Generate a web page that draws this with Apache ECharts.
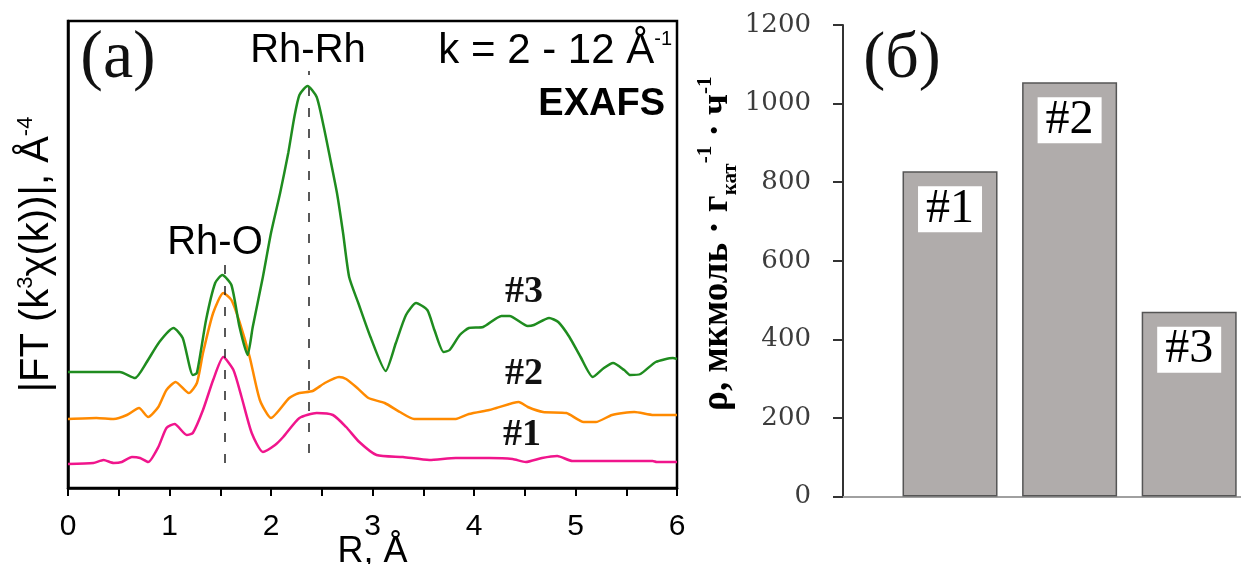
<!DOCTYPE html>
<html><head><meta charset="utf-8">
<script src="https://cdn.jsdelivr.net/npm/echarts@6/dist/echarts.min.js"></script>
<style>html,body{margin:0;padding:0;background:#fff}#c{width:1241px;height:564px}</style>
</head><body><div id="c"></div>
<script>
// ---- Panel (a): EXAFS Fourier transforms (arbitrary units) ----
const r1 = [0,0.25,0.35,0.45,0.53,0.63,0.71,0.79,0.89,0.97,1.05,1.17,1.23,1.33,1.43,1.53,1.63,1.71,1.81,1.92,2.04,2.12,2.28,2.45,2.61,2.74,2.87,3.04,3.30,3.56,3.82,4.15,4.38,4.51,4.67,4.82,4.97,5.76,5.80,6.0];
const y1 = [2.4,2.5,2.8,2.5,2.6,3.1,3.0,2.6,4.1,6.0,6.4,5.3,5.5,7.8,10.8,13.1,11.8,9.1,5.5,3.6,4.3,5.1,7.0,7.5,7.3,6.1,4.6,3.3,3.1,2.8,3.0,3.0,2.9,2.6,3.0,3.2,2.7,2.7,2.6,2.6];
const r2 = [0,0.28,0.45,0.58,0.70,0.79,0.89,0.97,1.06,1.19,1.27,1.33,1.43,1.53,1.61,1.69,1.79,1.89,2.0,2.18,2.28,2.41,2.53,2.67,2.74,2.85,2.96,3.12,3.27,3.41,3.82,3.95,4.15,4.22,4.44,4.53,4.68,4.91,5.08,5.20,5.36,5.58,5.77,6.0];
const y2 = [6.9,7.0,6.9,7.3,8.0,7.1,8.1,9.8,10.6,9.5,10.5,13.5,17.5,19.5,18.8,16.6,13.1,8.8,7.0,9.0,9.5,9.7,10.5,11.1,10.9,10.0,9.0,8.5,7.6,6.9,6.9,7.4,7.8,8.0,8.6,8.1,7.6,7.5,6.6,6.6,7.3,7.6,7.3,7.3];
const r3 = [0,0.51,0.66,0.77,0.90,1.04,1.13,1.23,1.27,1.36,1.45,1.52,1.61,1.69,1.77,1.82,1.92,2.00,2.09,2.17,2.23,2.28,2.36,2.45,2.52,2.58,2.65,2.71,2.77,2.86,2.98,3.13,3.23,3.33,3.43,3.54,3.61,3.70,3.76,3.86,3.95,4.09,4.27,4.35,4.53,4.59,4.74,4.83,4.94,5.05,5.17,5.28,5.37,5.48,5.54,5.64,5.79,5.96,6.0];
const y3 = [11.6,11.6,11.0,12.5,14.6,16.0,15.0,11.3,11.5,16.8,20.5,21.3,20.3,16.1,13.3,16.1,21.1,25.5,29.5,33.5,37.1,39.3,40.2,39.1,36.1,33.1,29.5,25.5,21.1,18.5,15.1,11.7,14.5,17.3,18.5,17.8,15.8,13.6,13.8,15.3,16.0,16.1,17.2,17.2,16.2,16.3,17.0,16.6,15.1,13.1,11.1,12.0,12.5,11.8,11.3,11.4,12.6,13.0,12.9];
const seriesNames = ['#1','#2','#3'];
const peakNames = ['Rh-O','Rh-Rh'];
const peakR = [1.54, 2.37];
const peakLow = [2.5, 3.5];
const peakHigh = [23.0, 41.7];
const xTickLabels = ['0','1','2','3','4','5','6'];

// ---- Panel (б): activity ----
const barCats = ['#1','#2','#3'];
const barVals = [828, 1054, 470];
const barTickLabels = ['0','200','400','600','800','1000','1200'];

const colors = ['#f0158c','#ff8a00','#1f8c1f'];
const rs = [r1, r2, r3], ys = [y1, y2, y3];

const chart = echarts.init(document.getElementById('c'), null, {renderer:'canvas'});
const sans = 'Liberation Sans, Arial, sans-serif';
const serif = 'Liberation Serif, Times New Roman, serif';

const lineSeries = rs.map((r, k) => ({
  type: 'line', name: seriesNames[k], xAxisIndex: 0, yAxisIndex: 0,
  data: r.map((v, i) => [v, ys[k][i]]),
  showSymbol: false, smooth: 0.2,
  lineStyle: {color: colors[k], width: 2.5}, itemStyle: {color: colors[k]}, z: 3 + k
}));

const option = {
  animation: false,
  backgroundColor: '#fff',
  grid: [
    {left: 68, top: 21, width: 609, height: 467, show: true, borderColor: '#000', borderWidth: 2.5, backgroundColor: 'transparent', containLabel: false, outerBoundsMode: 'none'},
    {left: 843, top: 25, width: 400, height: 471.5, containLabel: false, outerBoundsMode: 'none'}
  ],
  xAxis: [
    {type: 'value', gridIndex: 0, min: 0, max: 6, interval: 1,
     axisLine: {show: true, lineStyle: {color: '#000', width: 2.5}},
     axisTick: {show: true, length: 8, lineStyle: {color: '#000', width: 2}},
     minorTick: {show: true, splitNumber: 2, length: 8, lineStyle: {color: '#000', width: 2}},
     splitLine: {show: false}, minorSplitLine: {show: false},
     axisLabel: {fontSize: 30, fontFamily: sans, color: '#000', margin: 24,
       formatter: v => xTickLabels[Math.round(v)]},
     name: 'R, Å', nameLocation: 'middle', nameGap: 46, nameMoveOverlap: false,
     nameTextStyle: {fontSize: 36, fontFamily: sans, color: '#000'}},
    {type: 'value', gridIndex: 1, min: 0.105, max: 3.45,
     axisLine: {show: true, lineStyle: {color: '#a0a0a0', width: 2}},
     axisTick: {show: false}, axisLabel: {show: false}, splitLine: {show: false}}
  ],
  yAxis: [
    {type: 'value', gridIndex: 0, min: 0, max: 46.7,
     axisLine: {show: true, lineStyle: {color: '#000', width: 2.5}},
     axisTick: {show: false}, axisLabel: {show: false}, splitLine: {show: false},
     name: '{a||FT (k}{s|3}{a|χ(k))|, Å}{s|-4}', nameLocation: 'middle', nameRotate: 90, nameGap: 9,
     nameTextStyle: {fontSize: 40, fontFamily: sans, color: '#000',
       rich: {a: {fontSize: 40, fontFamily: sans, color: '#000', lineHeight: 44},
              s: {fontSize: 22, fontFamily: sans, color: '#000', lineHeight: 22, verticalAlign: 'top'}}}},
    {type: 'value', gridIndex: 1, min: 0, max: 1200, interval: 200,
     axisLine: {show: true, lineStyle: {color: '#333', width: 2}},
     axisTick: {show: true, length: 10, lineStyle: {color: '#333', width: 2}},
     axisLabel: {fontSize: 26, fontFamily: 'DejaVu Serif, serif', color: '#3c3c3c', margin: 32,
       formatter: v => barTickLabels[Math.round(v / 200)]},
     splitLine: {show: false},
     name: '{b|ρ, мкмоль · г}{sub|кат}{sup|-1}{b| · ч}{sup|-1}', nameLocation: 'middle', nameRotate: 90, nameGap: 100,
     nameTextStyle: {fontSize: 37, fontFamily: serif, fontWeight: 'bold', color: '#000', padding: [0, 0, 0, 34],
       rich: {b: {fontSize: 37, fontFamily: serif, fontWeight: 'bold', color: '#000', lineHeight: 46},
              sub: {fontSize: 21, fontFamily: serif, fontWeight: 'bold', color: '#000', lineHeight: 21, verticalAlign: 'bottom'},
              sup: {fontSize: 21, fontFamily: serif, fontWeight: 'bold', color: '#000', lineHeight: 21, verticalAlign: 'top'}}}}
  ],
  series: [
    ...lineSeries,
    {type: 'line', xAxisIndex: 0, yAxisIndex: 0, data: [], silent: true,
     markLine: {silent: true, symbol: ['none', 'none'], label: {show: false},
       lineStyle: {color: '#222', width: 1.5, type: [9, 12]},
       data: peakR.map((r, i) => [{coord: [r, peakLow[i]]}, {coord: [r, peakHigh[i]]}])}},
    {type: 'bar', xAxisIndex: 1, yAxisIndex: 1, barWidth: 95,
     data: barVals.map((v, i) => [i + 1, v]),
     itemStyle: {color: '#b0acab', borderColor: '#555', borderWidth: 1.5},
     label: {show: true, position: 'insideTop', distance: 15,
       formatter: p => barCats[p.dataIndex],
       fontFamily: serif, fontSize: 48, color: '#000', backgroundColor: '#fff', padding: [0, 8], lineHeight: 46}}
  ],
  graphic: [
    {type: 'text', x: 118, y: 59, style: {text: '(a)', fontFamily: serif, fontSize: 68, fill: '#111', align: 'center', verticalAlign: 'middle'}},
    {type: 'text', x: 902, y: 60, style: {text: '(б)', fontFamily: serif, fontSize: 66, fill: '#111', align: 'center', verticalAlign: 'middle'}},
    {type: 'text', x: 308, y: 51, style: {text: peakNames[1], fontFamily: sans, fontSize: 40, fill: '#000', align: 'center', verticalAlign: 'middle'}},
    {type: 'text', x: 215, y: 243, style: {text: peakNames[0], fontFamily: sans, fontSize: 40, fill: '#000', align: 'center', verticalAlign: 'middle'}},
    {type: 'text', x: 672, y: 51, style: {text: '{a|k = 2 - 12 Å}{s|-1}', align: 'right', verticalAlign: 'middle',
       rich: {a: {fontFamily: sans, fontSize: 42, fill: '#000', lineHeight: 44}, s: {fontFamily: sans, fontSize: 20, fill: '#000', lineHeight: 20, verticalAlign: 'top'}}}},
    {type: 'text', x: 665, y: 105, style: {text: 'EXAFS', fontFamily: sans, fontWeight: 'bold', fontSize: 38, fill: '#000', align: 'right', verticalAlign: 'middle'}},
    {type: 'text', x: 524, y: 292, style: {text: seriesNames[2], fontFamily: serif, fontWeight: 'bold', fontSize: 38, fill: '#111', align: 'center', verticalAlign: 'middle'}},
    {type: 'text', x: 524, y: 374, style: {text: seriesNames[1], fontFamily: serif, fontWeight: 'bold', fontSize: 38, fill: '#111', align: 'center', verticalAlign: 'middle'}},
    {type: 'text', x: 522, y: 435, style: {text: seriesNames[0], fontFamily: serif, fontWeight: 'bold', fontSize: 38, fill: '#111', align: 'center', verticalAlign: 'middle'}}
  ]
};
chart.setOption(option);
</script>
</body></html>
